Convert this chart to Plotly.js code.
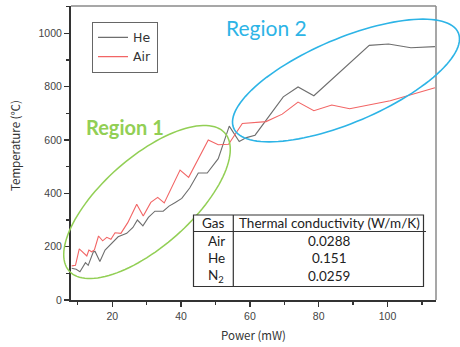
<!DOCTYPE html>
<html>
<head>
<meta charset="utf-8">
<script src="https://cdn.plot.ly/plotly-3.0.1.min.js"></script>
<style>html,body{margin:0;padding:0;background:#fff;}#chart{width:460px;height:347px;}</style>
</head>
<body>
<div id="chart"></div>
<script>
// ---- data ----
const heX = [8.2, 9.5, 10.6, 12.2, 13.0, 14.5, 15.0, 16.4, 17.9, 19.8, 21.7, 24.2, 26.0, 27.3, 28.9, 30.5, 32.4, 34.8, 36.5, 38.2, 40.2, 42.5, 45.0, 47.6, 50.8, 54.0, 56.9, 59.0, 61.5, 69.7, 74.0, 78.6, 94.7, 100.3, 106.8, 113.8];
const heY = [119, 115, 106, 140, 130, 181, 182, 144, 187, 212, 237, 250, 272, 300, 278, 310, 333, 333, 352, 365, 381, 420, 476, 476, 530, 652, 594, 609, 618, 762, 799, 766, 955, 960, 946, 950];
const airX = [8.2, 9.3, 10.4, 11.6, 12.6, 13.2, 14.0, 14.8, 16.0, 17.2, 18.4, 19.6, 20.8, 22.5, 24.5, 27.1, 29.0, 31.2, 33.2, 35.1, 39.7, 42.2, 47.9, 50.8, 53.8, 57.8, 64.7, 69.4, 74.0, 78.6, 83.8, 89.0, 100.8, 113.8];
const airY = [128, 130, 192, 175, 165, 187, 181, 188, 240, 222, 235, 228, 252, 250, 290, 359, 315, 366, 385, 364, 487, 460, 600, 582, 584, 662, 669, 697, 742, 710, 731, 717, 747, 796];
const seriesNames = ["He", "Air"];
const xTicks = [20, 40, 60, 80, 100];
const yTicks = [0, 200, 400, 600, 800, 1000];
const tableHeader = ["Gas", "Thermal conductivity (W/m/K)"];
const tableGas = ["Air", "He", "N<sub>2</sub>"];
const tableK = ["0.0288", "0.151", "0.0259"];
const regionLabels = ["Region 1", "Region 2"];

// ---- layout helpers (pixel -> paper) ----
const L = 71, R = 436, T = 6, B = 300;
const xp = px => (px - L) / (R - L);
const yp = py => (B - py) / (B - T);

function ellipsePath(cx, cy, a, b, angDeg) {
  const th = angDeg * Math.PI / 180;
  const pts = [];
  const n = 120;
  for (let i = 0; i <= n; i++) {
    const t = 2 * Math.PI * i / n;
    const ex = a * Math.cos(t), ey = b * Math.sin(t);
    const px = cx + ex * Math.cos(th) + ey * Math.sin(th);
    const py = cy - ex * Math.sin(th) + ey * Math.cos(th);
    pts.push((i === 0 ? 'M' : 'L') + xp(px).toFixed(5) + ',' + yp(py).toFixed(5));
  }
  return pts.join(' ') + ' Z';
}

const green = '#92cf55';
const blue = '#2db4e6';
const tickFont = {family: 'Liberation Sans, Arial, sans-serif', size: 10.5, color: '#444'};
const tblFont = {family: 'Lato, sans-serif', size: 13.5, color: '#222'};

const traces = [
  {x: heX, y: heY, name: seriesNames[0], type: 'scatter', mode: 'lines',
   line: {color: '#6e6e6e', width: 1.1}},
  {x: airX, y: airY, name: seriesNames[1], type: 'scatter', mode: 'lines',
   line: {color: '#f26565', width: 1.1}}
];

const shapes = [
  // top and right frame
  {type: 'line', xref: 'paper', yref: 'paper', x0: 0, x1: 1, y0: 1, y1: 1, line: {color: '#8a8a8a', width: 1.5}},
  {type: 'line', xref: 'paper', yref: 'paper', x0: 1, x1: 1, y0: 0, y1: 1, line: {color: '#8a8a8a', width: 1.5}},
  // ellipses
  {type: 'path', xref: 'paper', yref: 'paper', layer: 'above', path: ellipsePath(147, 202, 104, 44.5, 41.5), line: {color: green, width: 1.5}},
  {type: 'path', xref: 'paper', yref: 'paper', layer: 'above', path: ellipsePath(346, 80.5, 122, 42, 23), line: {color: blue, width: 1.6}},
  // table
  {type: 'rect', xref: 'paper', yref: 'paper', layer: 'above', x0: xp(193.5), x1: xp(423.5), y0: yp(286.5), y1: yp(215), fillcolor: '#fff', line: {color: '#333', width: 1.2}},
  {type: 'line', xref: 'paper', yref: 'paper', layer: 'above', x0: xp(193.5), x1: xp(426), y0: yp(231.5), y1: yp(231.5), line: {color: '#333', width: 1.2}},
  {type: 'line', xref: 'paper', yref: 'paper', layer: 'above', x0: xp(233.3), x1: xp(233.3), y0: yp(286.5), y1: yp(215), line: {color: '#333', width: 1.2}}
];

const annotations = [
  {xref: 'paper', yref: 'paper', x: xp(84), y: yp(127), xanchor: 'left', yanchor: 'middle', showarrow: false,
   text: '<b>' + regionLabels[0] + '</b>', font: {family: 'Lato, sans-serif', size: 20, color: green}},
  {xref: 'paper', yref: 'paper', x: xp(224), y: yp(28), xanchor: 'left', yanchor: 'middle', showarrow: false,
   text: regionLabels[1], font: {family: 'Lato, sans-serif', size: 21, color: blue}},
  {xref: 'paper', yref: 'paper', x: xp(15), y: yp(146), xanchor: 'center', yanchor: 'middle', showarrow: false, textangle: -90,
   text: 'Temperature (℃)', font: {family: 'Noto Sans CJK JP, sans-serif', size: 11.5, color: '#333'}},
  {xref: 'paper', yref: 'paper', x: xp(253), y: yp(335), xanchor: 'center', yanchor: 'middle', showarrow: false,
   text: 'Power (mW)', font: {family: 'Noto Sans CJK JP, sans-serif', size: 11.5, color: '#333'}},
  {xref: 'paper', yref: 'paper', x: xp(213.5), y: yp(223.3), xanchor: 'center', yanchor: 'middle', showarrow: false,
   text: tableHeader[0], font: tblFont},
  {xref: 'paper', yref: 'paper', x: xp(329), y: yp(223.3), xanchor: 'center', yanchor: 'middle', showarrow: false,
   text: tableHeader[1], font: tblFont}
];
const rowY = [240.7, 258.3, 276];
for (let i = 0; i < tableGas.length; i++) {
  annotations.push({xref: 'paper', yref: 'paper', x: xp(206), y: yp(rowY[i]), xanchor: 'left', yanchor: 'middle', showarrow: false,
    text: tableGas[i], font: tblFont});
  annotations.push({xref: 'paper', yref: 'paper', x: xp(329), y: yp(rowY[i]), xanchor: 'center', yanchor: 'middle', showarrow: false,
    text: tableK[i], font: tblFont});
}

const layout = {
  width: 460, height: 347,
  margin: {l: L, r: 460 - R, t: T, b: 347 - B},
  paper_bgcolor: '#fff', plot_bgcolor: '#fff',
  showlegend: true,
  legend: {x: xp(92), y: yp(21.7), xanchor: 'left', yanchor: 'top',
    bgcolor: '#fff', bordercolor: '#666', borderwidth: 1,
    font: {family: 'DejaVu Sans, sans-serif', size: 12.5, color: '#333'}},
  xaxis: {range: [8.0, 114.1], tickvals: xTicks, ticktext: xTicks.map(String),
    showgrid: false, zeroline: false, showline: true, linecolor: '#333', linewidth: 2,
    ticks: 'outside', ticklen: 5, tickwidth: 1.5, tickcolor: '#333', tickfont: tickFont,
    minor: {dtick: 10, tick0: 0, ticks: 'outside', ticklen: 3, tickwidth: 1.2, tickcolor: '#333', showgrid: false}},
  yaxis: {range: [0, 1102.5], tickvals: yTicks, ticktext: yTicks.map(String),
    showgrid: false, zeroline: false, showline: true, linecolor: '#333', linewidth: 2,
    ticks: 'outside', ticklen: 5, tickwidth: 1.5, tickcolor: '#333', tickfont: tickFont,
    minor: {dtick: 100, tick0: 0, ticks: 'outside', ticklen: 3, tickwidth: 1.2, tickcolor: '#333', showgrid: false}},
  shapes: shapes,
  annotations: annotations
};

Plotly.newPlot('chart', traces, layout, {staticPlot: true, displayModeBar: false});
</script>
</body>
</html>
